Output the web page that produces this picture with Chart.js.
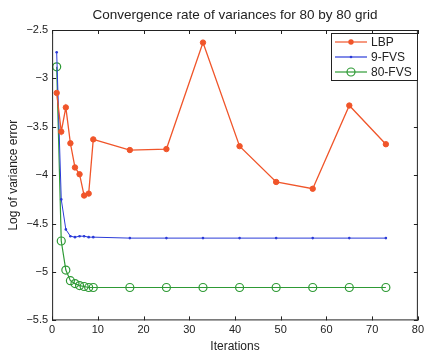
<!DOCTYPE html>
<html>
<head>
<meta charset="utf-8">
<script src="https://cdn.jsdelivr.net/npm/chart.js@4"></script>
<style>
  html, body { margin: 0; padding: 0; background: #fff; }
  #wrap { width: 427px; height: 354px; }
</style>
</head>
<body>
<div id="wrap"><canvas id="myChart"></canvas></div>
<script>
// data
const iterations = [1, 2, 3, 4, 5, 6, 7, 8, 9, 17, 25, 33, 41, 49, 57, 65, 73];
const lbp = [-3.15, -3.55, -3.3, -3.67, -3.92, -3.99, -4.21, -4.19, -3.63, -3.74, -3.73, -2.63, -3.7, -4.07, -4.14, -3.28, -3.68];
const fvs9 = [-2.73, -4.25, -4.56, -4.63, -4.64, -4.63, -4.63, -4.64, -4.64, -4.65, -4.65, -4.65, -4.65, -4.65, -4.65, -4.65, -4.65];
const fvs80 = [-2.88, -4.68, -4.98, -5.09, -5.12, -5.14, -5.15, -5.16, -5.16, -5.16, -5.16, -5.16, -5.16, -5.16, -5.16, -5.16, -5.16];
const xTicks = [0, 10, 20, 30, 40, 50, 60, 70, 80];
const yTicks = [-5.5, -5, -4.5, -4, -3.5, -3, -2.5];

const seriesNames = ['LBP', '9-FVS', '80-FVS'];
const colors = ['#f0552a', '#2b3bd8', '#2e9a35'];
const titleText = 'Convergence rate of variances for 80 by 80 grid';

function pts(ys) {
    return iterations.map((x, i) => ({ x: x, y: ys[i] }));
}

const FONT = 'Liberation Sans, Arial, sans-serif';

// box, inward ticks, title and legend, matlab style
const matlabFrame = {
    id: 'matlabFrame',
    afterDraw(chart) {
        const c = chart.ctx;
        const a = chart.chartArea;
        const xs = chart.scales.x, ys = chart.scales.y;
        c.save();
        c.strokeStyle = '#222';
        c.lineWidth = 1;
        c.strokeRect(a.left + 0.5, a.top + 0.5, a.right - a.left - 1, a.bottom - a.top - 1);
        c.beginPath();
        xTicks.forEach(t => {
            const px = Math.round(xs.getPixelForValue(t)) + 0.5;
            c.moveTo(px, a.bottom); c.lineTo(px, a.bottom - 4);
            c.moveTo(px, a.top); c.lineTo(px, a.top + 4);
        });
        yTicks.forEach(t => {
            const py = Math.round(ys.getPixelForValue(t)) + 0.5;
            c.moveTo(a.left, py); c.lineTo(a.left + 4, py);
            c.moveTo(a.right, py); c.lineTo(a.right - 4, py);
        });
        c.stroke();

        // title centred over the axes box
        c.fillStyle = '#222';
        c.font = '13.5px ' + FONT;
        c.textAlign = 'center';
        c.textBaseline = 'middle';
        c.fillText(titleText, (a.left + a.right) / 2, 15);

        // legend
        const lx = 331, ly = 33, lw = 86, lh = 47;
        c.fillStyle = '#fff';
        c.fillRect(lx, ly, lw, lh);
        c.strokeStyle = '#222';
        c.strokeRect(lx + 0.5, ly + 0.5, lw, lh);
        c.font = '12px ' + FONT;
        c.textAlign = 'left';
        seriesNames.forEach((name, i) => {
            const y = ly + 9 + i * 15;
            c.strokeStyle = colors[i];
            c.lineWidth = 1.2;
            c.beginPath();
            c.moveTo(lx + 4, y); c.lineTo(lx + 36, y);
            c.stroke();
            c.beginPath();
            if (i === 0) {
                c.fillStyle = colors[i];
                c.arc(lx + 20, y, 2.7, 0, Math.PI * 2);
                c.fill();
            } else if (i === 1) {
                c.fillStyle = colors[i];
                c.arc(lx + 20, y, 1.3, 0, Math.PI * 2);
                c.fill();
            } else {
                c.arc(lx + 20, y, 4, 0, Math.PI * 2);
                c.stroke();
            }
            c.fillStyle = '#222';
            c.fillText(name, lx + 40, y + 1);
        });
        c.restore();
    }
};

new Chart(document.getElementById('myChart'), {
    type: 'line',
    data: {
        datasets: [
            {
                label: seriesNames[0],
                data: pts(lbp),
                borderColor: colors[0],
                backgroundColor: colors[0],
                borderWidth: 1.3,
                pointRadius: 2.7,
                pointBorderWidth: 1,
                pointStyle: 'circle'
            },
            {
                label: seriesNames[1],
                data: pts(fvs9),
                borderColor: colors[1],
                backgroundColor: colors[1],
                borderWidth: 1,
                pointRadius: 1.3,
                pointBorderWidth: 0
            },
            {
                label: seriesNames[2],
                data: pts(fvs80),
                borderColor: colors[2],
                backgroundColor: 'rgba(0,0,0,0)',
                borderWidth: 1.2,
                pointRadius: 4,
                pointBorderWidth: 1.2
            }
        ]
    },
    options: {
        responsive: true,
        maintainAspectRatio: false,
        animation: false,
        layout: { padding: { left: 6, right: 0, top: 30, bottom: 0 } },
        plugins: {
            legend: { display: false },
            tooltip: { enabled: false },
            title: { display: false }
        },
        scales: {
            x: {
                type: 'linear',
                min: 0,
                max: 80,
                afterBuildTicks: s => { s.ticks = xTicks.map(v => ({ value: v })); },
                grid: { display: false, drawTicks: false },
                border: { display: false },
                ticks: { color: '#222', padding: 3, font: { family: FONT, size: 11 }, maxRotation: 0 },
                title: { display: true, text: 'Iterations', color: '#222', font: { family: FONT, size: 12 }, padding: { top: 0, bottom: 0 } }
            },
            y: {
                min: -5.5,
                max: -2.5,
                afterBuildTicks: s => { s.ticks = yTicks.map(v => ({ value: v })); },
                grid: { display: false, drawTicks: false },
                border: { display: false },
                ticks: {
                    color: '#222',
                    padding: 4,
                    font: { family: FONT, size: 11 },
                    callback: v => String(v).replace('-', '\u2212')
                },
                title: { display: true, text: 'Log of variance error', color: '#222', font: { family: FONT, size: 12 }, padding: { top: 0, bottom: 2 } }
            }
        }
    },
    plugins: [matlabFrame]
});
</script>
</body>
</html>
